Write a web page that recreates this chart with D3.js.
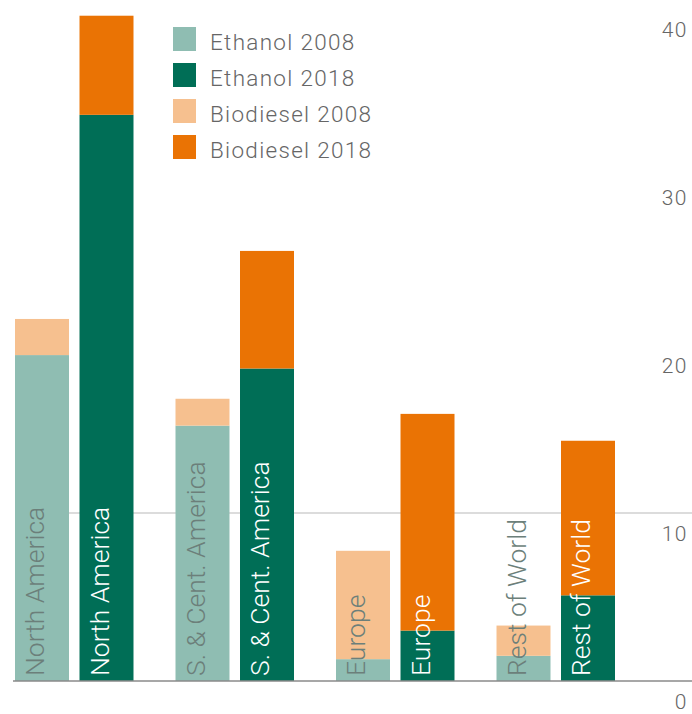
<!DOCTYPE html>
<html>
<head>
<meta charset="utf-8">
<script src="https://cdn.jsdelivr.net/npm/d3@7"></script>
<style>
  html, body { margin: 0; padding: 0; background: #fff; }
  svg { display: block; }
  text { font-family: Roboto, "Noto Sans", sans-serif; font-weight: 300; }
</style>
</head>
<body>
<svg id="chart" width="692" height="714"></svg>
<script>
// ---- data ----
const regions = ["North America", "S. & Cent. America", "Europe", "Rest of World"];
const years = ["2008", "2018"];
const ethanol2008 = [19.4, 15.2, 1.3, 1.5];
const ethanol2018 = [33.7, 18.6, 3.0, 5.1];
const biodiesel2008 = [2.15, 1.6, 6.45, 1.8];
const biodiesel2018 = [5.9, 7.0, 12.9, 9.2];
const tickValues = [0, 10, 20, 30, 40];
const gridValues = [10];
const legendLabels = ["Ethanol 2008", "Ethanol 2018", "Biodiesel 2008", "Biodiesel 2018"];

const colors = {
  eth2008: "#8fbdb2", eth2018: "#006e56",
  bio2008: "#f6c08f", bio2018: "#ea7304"
};
const legendColors = [colors.eth2008, colors.eth2018, colors.bio2008, colors.bio2018];

const svg = d3.select("#chart");

const y = d3.scaleLinear().domain([0, 40]).range([681, 9]);
const x0 = d3.scaleBand().domain(regions).range([15, 615]).paddingInner(0.2617).paddingOuter(0);
const x1 = d3.scaleBand().domain(years).range([0, x0.bandwidth()]).paddingInner(0.163).paddingOuter(0);

// gridlines
svg.append("g").selectAll("line").data(gridValues).join("line")
  .attr("x1", 15).attr("x2", 692)
  .attr("y1", d => y(d)).attr("y2", d => y(d))
  .attr("stroke", "#b9b9b9").attr("stroke-width", 1);

// bars
const rows = [];
regions.forEach((r, i) => {
  rows.push({region: r, year: "2008", eth: ethanol2008[i], bio: biodiesel2008[i], ce: colors.eth2008, cb: colors.bio2008, tc: "#6c7f7a"});
  rows.push({region: r, year: "2018", eth: ethanol2018[i], bio: biodiesel2018[i], ce: colors.eth2018, cb: colors.bio2018, tc: "#ffffff"});
});

const bars = svg.append("g").selectAll("g").data(rows).join("g")
  .attr("transform", d => `translate(${x0(d.region) + x1(d.year)},0)`);

bars.append("rect")
  .attr("x", 0).attr("width", x1.bandwidth())
  .attr("y", d => y(d.eth)).attr("height", d => y(0) - y(d.eth))
  .attr("fill", d => d.ce);
bars.append("rect")
  .attr("x", 0).attr("width", x1.bandwidth())
  .attr("y", d => y(d.eth + d.bio)).attr("height", d => y(d.eth) - y(d.eth + d.bio))
  .attr("fill", d => d.cb);

bars.append("text")
  .attr("transform", `translate(29,${y(0) - 5}) rotate(-90)`)
  .attr("text-anchor", "start")
  .attr("font-size", 26.5)
  .attr("fill", d => d.tc)
  .text(d => d.region);

// baseline
svg.append("line")
  .attr("x1", 13).attr("x2", 692)
  .attr("y1", y(0)).attr("y2", y(0))
  .attr("stroke", "#8a8a8a").attr("stroke-width", 1.5);

// axis labels (right side, below each gridline)
svg.append("g").selectAll("text").data(tickValues).join("text")
  .attr("x", 688).attr("y", d => y(d) + 28)
  .attr("text-anchor", "end")
  .attr("font-size", 21)
  .attr("letter-spacing", 1.5)
  .attr("fill", "#666")
  .text(d => d);

// legend
const lg = svg.append("g").selectAll("g").data(legendLabels).join("g")
  .attr("transform", (d, i) => `translate(173,${27 + i * 36})`);
lg.append("rect").attr("width", 23).attr("height", 24)
  .attr("fill", (d, i) => legendColors[i]);
lg.append("text").attr("x", 37).attr("y", 23)
  .attr("font-size", 22.5)
  .attr("letter-spacing", 1.3)
  .attr("fill", "#666")
  .text(d => d);
</script>
</body>
</html>
